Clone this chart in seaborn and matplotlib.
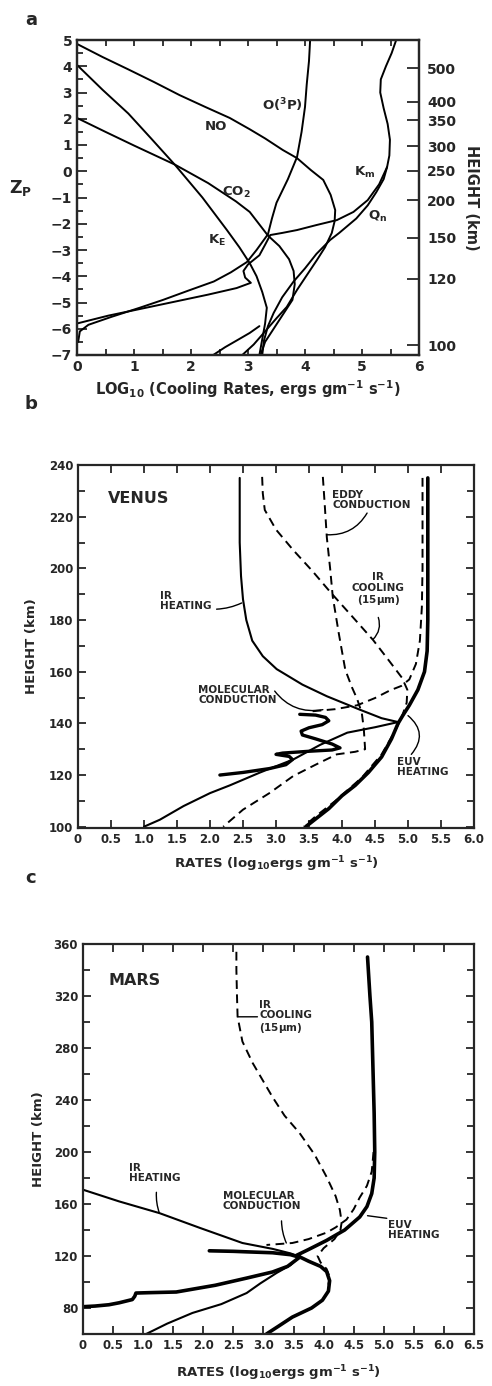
import matplotlib
matplotlib.use("Agg")
import matplotlib.pyplot as plt
import seaborn as sns
from matplotlib.ticker import MultipleLocator, FixedLocator

# ---- panel a : Earth, x = log10 cooling rate, y = Zp ----
no_x = [0, 0.45, 0.9, 1.35, 1.8, 2.25, 2.68, 3.03, 3.3, 3.61, 3.86, 4.1, 4.32, 4.45, 4.53, 4.52,
        4.47, 4.35, 4.21, 4.05, 3.86, 3.68, 3.5, 3.3, 3.1, 2.9]
no_z = [4.85, 4.35, 3.88, 3.4, 2.9, 2.45, 2.03, 1.6, 1.25, 0.81, 0.5, 0.05, -0.33, -0.9, -1.48, -1.9,
        -2.35, -2.9, -3.38, -3.9, -4.52, -5.17, -5.6, -6.1, -6.6, -7.0]
co2_x = [0, 0.5, 1.0, 1.72, 2.3, 2.79, 3.03, 3.35, 3.55, 3.72, 3.8, 3.82, 3.78, 3.6, 3.45, 3.3, 3.22]
co2_z = [2.03, 1.5, 0.98, 0.25, -0.45, -1.15, -1.55, -2.45, -2.85, -3.35, -3.8, -4.3, -4.9, -5.5, -6.0, -6.5, -7.0]
ke_x = [0, 0.45, 0.9, 1.3, 1.72, 2.2, 2.63, 2.85, 3.03, 3.15, 3.25, 3.33, 3.3, 3.25, 3.2]
ke_z = [4.05, 3.1, 2.2, 1.25, 0.24, -1.0, -2.24, -2.9, -3.5, -4.0, -4.6, -5.2, -5.8, -6.4, -7.0]
o3p_x = [4.09, 4.07, 4.03, 4.0, 3.94, 3.86, 3.7, 3.5, 3.42, 3.35, 3.15, 2.98, 2.7, 2.4, 1.95, 1.51, 1.1, 0.6,
         0.2, 0.05, 0.02]
o3p_z = [5.0, 4.2, 3.3, 2.45, 1.5, 0.54, -0.3, -1.2, -1.8, -2.4, -3.0, -3.46, -3.85, -4.2, -4.55, -4.9, -5.2,
         -5.55, -5.85, -6.1, -6.5]
km_x = [5.6, 5.52, 5.42, 5.33, 5.32, 5.38, 5.45, 5.49, 5.48, 5.44, 5.3, 5.1, 4.85, 4.56, 4.2, 3.86, 3.6, 3.39,
        3.3, 3.2, 3.0, 2.92, 2.95, 3.05, 2.8, 2.3, 1.69, 1.1, 0.55, 0.0]
km_z = [5.0, 4.5, 4.0, 3.5, 3.0, 2.4, 1.8, 1.2, 0.6, 0.16, -0.5, -1.1, -1.55, -1.86, -2.05, -2.24, -2.35, -2.43,
        -2.8, -3.2, -3.55, -3.8, -4.05, -4.25, -4.45, -4.7, -4.98, -5.25, -5.5, -5.8]
qn_x = [5.44, 5.38, 5.25, 5.1, 4.9, 4.6, 4.44, 4.2, 4.0, 3.8, 3.6, 3.45, 3.35, 3.28, 3.25]
qn_z = [0.16, -0.3, -0.8, -1.3, -1.8, -2.35, -2.62, -3.15, -3.7, -4.2, -4.8, -5.4, -5.9, -6.45, -7.0]
kml_x = [2.39, 2.6, 2.8, 3.03, 3.2]
kml_z = [-7.0, -6.7, -6.45, -6.16, -5.9]
height_km = [100, 120, 150, 200, 250, 300, 350, 400, 500]
height_zp = [-6.62, -4.10, -2.54, -1.10, 0.01, 0.96, 1.95, 2.64, 3.93]

# ---- panel b : Venus ----
irh_b_x = [2.45, 2.45, 2.47, 2.5, 2.55, 2.64, 2.8, 3.01, 3.4, 3.77, 4.27, 4.6, 4.85, 4.5, 4.08, 3.67, 3.26,
           2.76, 2.3, 2.0, 1.6, 1.24, 1.0]
irh_b_y = [235, 210, 197, 188, 180, 172, 166, 161, 155, 150.5, 145.3, 142, 140.5, 138.5, 136.4, 131.7, 126,
           121, 116, 113, 108, 102.7, 100]
euv_b_x = [5.3, 5.3, 5.3, 5.29, 5.25, 5.15, 5.02, 4.92, 4.85, 4.75, 4.6, 4.4, 4.2, 4.0, 3.8, 3.6, 3.45]
euv_b_y = [235, 200, 180, 168, 160, 153, 147, 143, 140, 134, 127, 121, 116, 112, 107, 103, 100]
mc_b_x = [5.22, 5.22, 5.21, 5.18, 5.12, 5.02, 4.9, 4.73, 4.5, 4.23, 3.9, 3.6, 3.48]
mc_b_y = [235, 200, 185, 172, 163, 157, 154.5, 152.8, 149.8, 147, 145.5, 144.8, 144.5]
mcw_b_x = [3.36, 3.6, 3.75, 3.8, 3.7, 3.5, 3.38, 3.4, 3.6, 3.85, 3.97, 3.85, 3.5, 3.1, 3.0, 3.2, 3.25, 3.15,
           2.9, 2.5, 2.15]
mcw_b_y = [143.5, 143.2, 142.3, 141, 139.5, 138.3, 137, 135.5, 134, 132, 130.5, 129.7, 129.2, 128.5, 128,
           127.2, 126, 124, 122.5, 121, 120]
eddy_b_x = [3.71, 3.74, 3.77, 3.82, 3.86, 3.95, 4.05, 4.15, 4.23, 4.3, 4.33, 4.35, 4.2, 3.92, 3.6, 3.26,
            2.9, 2.5, 2.2]
eddy_b_y = [235.4, 224, 212, 200, 189, 175, 160.7, 154, 149.4, 144, 138, 130, 129, 128, 124, 119.6,
            113, 106.6, 100]
irc_b_x = [2.79, 2.8, 2.83, 3.0, 3.26, 3.55, 3.82, 4.15, 4.47, 4.72, 4.91, 4.99, 4.98, 4.9, 4.78, 4.6, 4.3,
           3.9, 3.6, 3.42]
irc_b_y = [235.4, 229, 222.6, 215, 207.1, 199, 190.9, 181.5, 172.3, 164, 157.6, 153, 148, 142, 136, 128, 119,
           110, 104, 100]

# ---- panel c : Mars ----
euv_c_x = [4.73, 4.77, 4.8, 4.82, 4.84, 4.85, 4.84, 4.8, 4.72, 4.6, 4.35, 4.05, 3.75, 3.55, 3.75, 3.95, 4.05,
           4.1, 4.08, 3.98, 3.8, 3.48, 3.25, 3.05]
euv_c_y = [350, 320, 300, 265, 230, 200, 180, 168, 158, 150, 140, 132, 125, 120.5, 116, 112, 108, 101, 93,
           86, 80, 73, 66, 60]
mc_c_x = [4.83, 4.8, 4.72, 4.6, 4.5, 4.38, 4.2, 4.05, 3.75, 3.48, 3.2, 3.05]
mc_c_y = [200, 185, 174, 165, 156, 148, 142, 138, 133, 130, 129, 128.5]
irc_c_x = [2.55, 2.55, 2.56, 2.57, 2.65, 2.82, 3.15, 3.35, 3.6, 3.85, 4.05, 4.2, 4.27, 4.3, 4.28, 4.18, 4.0,
           3.9, 3.95, 4.05, 4.1, 4.08]
irc_c_y = [354, 340, 320, 304, 285, 268.5, 242.3, 228, 214.6, 198, 180.8, 166, 155.4, 146, 140, 133, 126,
           120, 115, 110, 104, 98]
irh_c_x = [0.0, 0.6, 1.27, 1.95, 2.65, 3.15, 3.45, 3.6, 3.45, 3.22, 2.95, 2.72, 2.3, 1.82, 1.4, 1.05]
irh_c_y = [171, 162, 153, 141.5, 130, 125.5, 122, 119.5, 113, 107, 99, 91.5, 83, 76.2, 68, 60]
mcl_c_x = [2.1, 2.5, 2.72, 3.15, 3.45, 3.6, 3.4, 3.15, 2.72, 2.2, 1.55, 1.1, 0.88, 0.86, 0.82, 0.6, 0.43, 0.2,
           0.0]
mcl_c_y = [124, 123.6, 123.2, 122.5, 121, 119, 112, 107.7, 103, 97.5, 92.3, 91.8, 91.5, 89, 86.5, 84, 82.5,
           81.5, 81]

sns.set_style("ticks")
plt.rcParams['font.family'] = ['DejaVu Sans']
plt.rcParams['font.weight'] = 'bold'
plt.rcParams['axes.labelweight'] = 'bold'
plt.rcParams['mathtext.default'] = 'bf'
plt.rcParams['axes.linewidth'] = 1.6

fig = plt.figure(figsize=(4.92, 13.86), dpi=100)
W, H = 492.0, 1386.0


def add_ax(l, t, r, b):
    return fig.add_axes([l / W, 1 - b / H, (r - l) / W, (b - t) / H])


def draw(ax, xs, ys, lw=1.4, ls='-'):
    sns.lineplot(x=xs, y=ys, ax=ax, sort=False, estimator=None, color='black',
                 lw=lw, linestyle=ls)


def ptr(ax, xy, xytext, rad=0.0):
    ax.annotate('', xy=xy, xytext=xytext,
                arrowprops=dict(arrowstyle='-', color='black', lw=1.0,
                                connectionstyle=f'arc3,rad={rad}',
                                shrinkA=0, shrinkB=0))


dash = (0, (4.5, 2.8))
ann = dict(fontsize=7.5, fontweight='bold', va='center', linespacing=1.05)

# ================= panel a =================
ax = add_ax(77, 40, 419, 355)
draw(ax, no_x, no_z)
draw(ax, co2_x, co2_z)
draw(ax, ke_x, ke_z)
draw(ax, o3p_x, o3p_z)
draw(ax, km_x, km_z)
draw(ax, qn_x, qn_z)
draw(ax, kml_x, kml_z)
ax.set_xlim(0, 6)
ax.set_ylim(-7, 5)
ax.xaxis.set_major_locator(MultipleLocator(1))
ax.xaxis.set_minor_locator(MultipleLocator(0.5))
ax.yaxis.set_major_locator(MultipleLocator(1))
ax.yaxis.set_minor_locator(MultipleLocator(0.5))
ax.tick_params(which='both', direction='in', top=True, right=False, labelsize=10, width=1.3)
ax.tick_params(which='major', length=7)
ax.tick_params(which='minor', length=4)
ax.tick_params(axis='x', which='major', length=4)
ax.set_yticklabels([f'{int(v)}' if v >= 0 else f'\u2212{int(-v)}' for v in ax.get_yticks()])
ax.set_xlabel('LOG$_{10}$ (Cooling Rates, ergs gm$^{-1}$ s$^{-1}$)', fontsize=10.5, labelpad=3)
ax.set_ylabel('Z$_P$', fontsize=12.5, rotation=0, labelpad=22)
ax2 = ax.twinx()
ax2.set_ylim(-7, 5)
ax2.yaxis.set_major_locator(FixedLocator(height_zp))
ax2.set_yticklabels([str(h) for h in height_km])
ax2.tick_params(direction='in', length=9, width=1.3, labelsize=10, pad=6)
ax2.set_ylabel('HEIGHT (km)', fontsize=10.5, rotation=270, labelpad=16)
ax.text(2.44, 1.69, 'NO', fontsize=9.5, ha='center', va='center')
ax.text(2.79, -0.79, 'CO$_2$', fontsize=9.5, ha='center', va='center')
ax.text(3.61, 2.52, 'O($^3$P)', fontsize=9.5, ha='center', va='center')
ax.text(5.04, -0.03, 'K$_m$', fontsize=9.5, ha='center', va='center')
ax.text(5.28, -1.74, 'Q$_n$', fontsize=9.5, ha='center', va='center')
ax.text(2.46, -2.62, 'K$_E$', fontsize=9.5, ha='center', va='center')
fig.text(25 / W, 1 - 20 / H, 'a', fontsize=13, va='center')

# ================= panel b =================
ax = add_ax(78, 465, 474, 828)
draw(ax, irh_b_x, irh_b_y, lw=1.5)
draw(ax, euv_b_x, euv_b_y, lw=2.6)
draw(ax, mc_b_x, mc_b_y, lw=1.4, ls=dash)
draw(ax, mcw_b_x, mcw_b_y, lw=2.4)
draw(ax, eddy_b_x, eddy_b_y, lw=1.4, ls=dash)
draw(ax, irc_b_x, irc_b_y, lw=1.4, ls=dash)
ax.set_xlim(0, 6)
ax.set_ylim(99.5, 240)
ax.xaxis.set_major_locator(MultipleLocator(0.5))
ax.yaxis.set_major_locator(MultipleLocator(20))
ax.yaxis.set_minor_locator(MultipleLocator(10))
ax.set_xticklabels(['0' if v == 0 else f'{v:.1f}' for v in ax.get_xticks()])
ax.tick_params(which='both', direction='in', top=True, right=True, labelsize=8.5, width=1.3)
ax.tick_params(which='major', length=6)
ax.tick_params(which='minor', length=5)
ax.set_xlabel('RATES (log$_{10}$ergs gm$^{-1}$ s$^{-1}$)', fontsize=9.5, labelpad=6)
ax.set_ylabel('HEIGHT (km)', fontsize=9.5, labelpad=8)
ax.text(0.45, 227.2, 'VENUS', fontsize=11.5, va='center')
ax.text(3.85, 226.5, 'EDDY\nCONDUCTION', **ann)
ptr(ax, (3.77, 213), (4.38, 221.4), rad=-0.3)
ax.text(1.24, 187.4, 'IR\nHEATING', **ann)
ptr(ax, (2.48, 186.6), (2.1, 184.2), rad=0.1)
ax.text(4.55, 191.7, 'IR\nCOOLING\n(15$\\mu$m)', ha='center', **ann)
ptr(ax, (4.47, 172.5), (4.55, 181), rad=-0.3)
ax.text(1.82, 151, 'MOLECULAR\nCONDUCTION', **ann)
ptr(ax, (3.71, 145.3), (2.98, 152.5), rad=0.3)
ax.text(4.83, 123.2, 'EUV\nHEATING', **ann)
ptr(ax, (5.0, 143), (5.05, 128), rad=0.5)
fig.text(25 / W, 1 - 404 / H, 'b', fontsize=13, va='center')

# ================= panel c =================
ax = add_ax(83, 944, 474, 1334)
draw(ax, euv_c_x, euv_c_y, lw=2.6)
draw(ax, mc_c_x, mc_c_y, lw=1.4, ls=dash)
draw(ax, irc_c_x, irc_c_y, lw=1.4, ls=dash)
draw(ax, irh_c_x, irh_c_y, lw=1.5)
draw(ax, mcl_c_x, mcl_c_y, lw=2.6)
ax.set_xlim(0, 6.5)
ax.set_ylim(60, 360)
ax.xaxis.set_major_locator(MultipleLocator(0.5))
ax.set_yticks([80, 120, 160, 200, 240, 280, 320, 360])
ax.yaxis.set_minor_locator(MultipleLocator(20))
ax.set_xticklabels(['0' if v == 0 else f'{v:.1f}' for v in ax.get_xticks()])
ax.tick_params(which='both', direction='in', top=True, right=True, labelsize=8.5, width=1.3)
ax.tick_params(which='major', length=6)
ax.tick_params(which='minor', length=5)
ax.set_xlabel('RATES (log$_{10}$ergs gm$^{-1}$ s$^{-1}$)', fontsize=9.5, labelpad=8)
ax.set_ylabel('HEIGHT (km)', fontsize=9.5, labelpad=6)
ax.text(0.43, 332.3, 'MARS', fontsize=11.5, va='center')
ax.text(2.93, 303.8, 'IR\nCOOLING\n(15$\\mu$m)', **ann)
ptr(ax, (2.57, 304), (2.9, 304))
ax.text(0.77, 184, 'IR\nHEATING', **ann)
ptr(ax, (1.27, 153), (1.22, 169), rad=0.1)
ax.text(2.32, 162.3, 'MOLECULAR\nCONDUCTION', **ann)
ptr(ax, (3.38, 130), (3.3, 147), rad=0.1)
ax.text(5.07, 140, 'EUV\nHEATING', **ann)
ptr(ax, (4.73, 151), (5.05, 149))
fig.text(25 / W, 1 - 878 / H, 'c', fontsize=13, va='center')

fig.savefig('out.png', dpi=100)
